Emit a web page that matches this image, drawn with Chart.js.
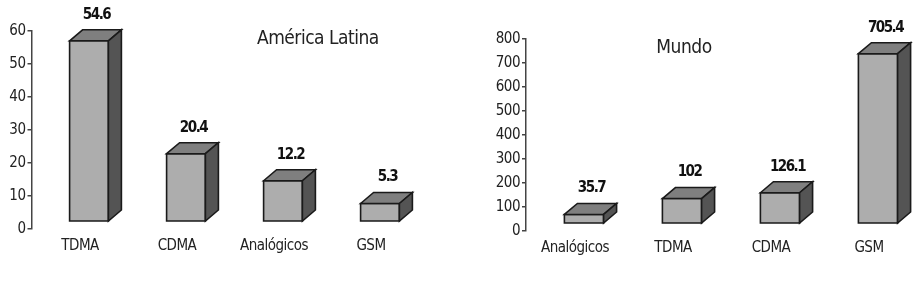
<!DOCTYPE html>
<html><head><meta charset="utf-8">
<script src="https://cdn.jsdelivr.net/npm/chart.js@4/dist/chart.umd.min.js"></script>
<style>
html,body{margin:0;padding:0;background:#fff;width:924px;height:287px;overflow:hidden}
#w1{position:absolute;left:0;top:0;width:460px;height:287px}
#w2{position:absolute;left:460px;top:0;width:464px;height:287px}
</style></head><body>
<div id="w1"><canvas id="c1"></canvas></div>
<div id="w2"><canvas id="c2"></canvas></div>
<script>
const latamTitle = 'América Latina';
const latamCategories = ['TDMA', 'CDMA', 'Analógicos', 'GSM'];
const latamValues = [54.6, 20.4, 12.2, 5.3];
const latamTicks = [0, 10, 20, 30, 40, 50, 60];

const worldTitle = 'Mundo';
const worldCategories = ['Analógicos', 'TDMA', 'CDMA', 'GSM'];
const worldValues = [35.7, 102, 126.1, 705.4];
const worldTicks = [0, 100, 200, 300, 400, 500, 600, 700, 800];

const FONT = '"DejaVu Sans Condensed", "DejaVu Sans", sans-serif';

const spacing = {
  id: 'spacing',
  beforeDraw(chart) { if ('letterSpacing' in chart.ctx) chart.ctx.letterSpacing = '-0.5px'; }
};

const bar3d = {
  id: 'bar3d',
  afterDatasetsDraw(chart, args, o) {
    const ctx = chart.ctx, ys = chart.scales.y, meta = chart.getDatasetMeta(0);
    const vals = chart.data.datasets[0].data;
    ctx.save();
    ctx.lineWidth = 1.6; ctx.strokeStyle = '#1a1a1a'; ctx.lineJoin = 'miter';
    meta.data.forEach((bar, i) => {
      const w = bar.width, cx = bar.x + o.shift;
      const x0 = cx - w / 2, x1 = cx + w / 2;
      const yb = ys.getPixelForValue(0) - o.lift, yt = bar.y - o.lift;
      ctx.fillStyle = '#adadad';
      ctx.beginPath(); ctx.rect(x0, yt, w, yb - yt); ctx.fill(); ctx.stroke();
      ctx.fillStyle = '#7f7f7f';
      ctx.beginPath(); ctx.moveTo(x0, yt); ctx.lineTo(x0 + o.dx, yt + o.dy); ctx.lineTo(x1 + o.dx, yt + o.dy); ctx.lineTo(x1, yt); ctx.closePath(); ctx.fill(); ctx.stroke();
      ctx.fillStyle = '#545454';
      ctx.beginPath(); ctx.moveTo(x1, yt); ctx.lineTo(x1 + o.dx, yt + o.dy); ctx.lineTo(x1 + o.dx, yb + o.dy); ctx.lineTo(x1, yb); ctx.closePath(); ctx.fill(); ctx.stroke();
      ctx.fillStyle = '#111';
      ctx.font = 'bold 15px ' + FONT;
      ctx.textAlign = 'center'; ctx.textBaseline = 'middle';
      if ('letterSpacing' in ctx) ctx.letterSpacing = '-1.5px';
      ctx.fillText(String(vals[i]), cx + o.dx / 2 + 1, yt + o.dy - 15);
      if ('letterSpacing' in ctx) ctx.letterSpacing = '-0.5px';
    });
    const a = chart.chartArea;
    ctx.fillStyle = '#222';
    ctx.font = o.titleSize + 'px ' + FONT;
    ctx.textAlign = 'center'; ctx.textBaseline = 'middle';
    ctx.fillText(o.title, a.left + (a.right - a.left) * o.titleX, o.titleY);
    ctx.restore();
  }
};

function makeChart(id, cats, vals, ticks, title, c) {
  new Chart(document.getElementById(id), {
    type: 'bar',
    data: { labels: cats, datasets: [{ data: vals, backgroundColor: 'rgba(0,0,0,0)', borderWidth: 0, barPercentage: 0.4, categoryPercentage: 1 }] },
    options: {
      responsive: true, maintainAspectRatio: false, animation: false, devicePixelRatio: 1,
      layout: { padding: { left: 0, right: c.right, top: c.top, bottom: 0 } },
      plugins: {
        legend: { display: false }, tooltip: { enabled: false },
        bar3d: { dx: 13, dy: -11, lift: 8, shift: 9, title: title, titleX: c.titleX, titleY: c.titleY, titleSize: 19 }
      },
      scales: {
        x: {
          grid: { display: false, drawTicks: false }, border: { display: false },
          ticks: { font: { family: FONT, size: 15 }, color: '#222', padding: 8, maxRotation: 0 },
          afterFit(s) { s.height = c.xh; }
        },
        y: {
          min: ticks[0], max: ticks[ticks.length - 1],
          afterBuildTicks(s) { s.ticks = ticks.map(v => ({ value: v })); },
          ticks: { font: { family: FONT, size: 15 }, color: '#222', padding: 2 },
          grid: { drawOnChartArea: false, tickLength: 4, color: '#444', lineWidth: 1.5 },
          border: { color: '#444', width: 1.5 },
          afterFit(s) { s.width = c.yw; }
        }
      }
    },
    plugins: [spacing, bar3d]
  });
}

makeChart('c1', latamCategories, latamValues, latamTicks, latamTitle,
  { right: 40.5, top: 31, xh: 58, yw: 31.5, titleX: 0.738, titleY: 39 });
makeChart('c2', worldCategories, worldValues, worldTicks, worldTitle,
  { right: 6, top: 39, xh: 56, yw: 66, titleX: 0.403, titleY: 48 });
</script>
</body></html>
